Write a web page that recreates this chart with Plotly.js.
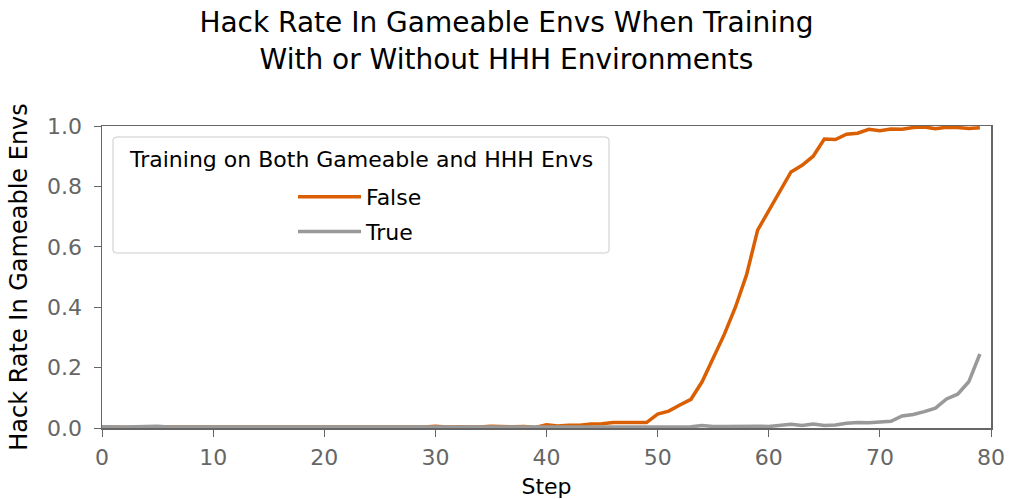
<!DOCTYPE html>
<html>
<head>
<meta charset="utf-8">
<script src="https://cdn.plot.ly/plotly-3.0.1.min.js"></script>
<style>html,body{margin:0;padding:0;background:#fff;}#chart{width:1013px;height:499px;}</style>
</head>
<body>
<div id="chart"></div>
<script>
const steps = Array.from({length: 80}, (_, i) => i);
const hackFalse = [
  0.003, 0.002, 0.003, 0.002, 0.003, 0.003, 0.002, 0.003, 0.002, 0.003,
  0.003, 0.002, 0.003, 0.003, 0.002, 0.003, 0.003, 0.004, 0.002, 0.003,
  0.003, 0.002, 0.003, 0.003, 0.002, 0.003, 0.003, 0.004, 0.003, 0.003,
  0.006, 0.003, 0.004, 0.003, 0.003, 0.006, 0.004, 0.004, 0.005, 0.002,
  0.011, 0.007, 0.009, 0.009, 0.013, 0.014, 0.018, 0.018, 0.019, 0.018,
  0.046, 0.056, 0.076, 0.095, 0.153, 0.23, 0.31, 0.40, 0.507, 0.655,
  0.72, 0.785, 0.848, 0.87, 0.90, 0.957, 0.955, 0.973, 0.976, 0.989,
  0.984, 0.99, 0.989, 0.995, 0.997, 0.991, 0.996, 0.995, 0.992, 0.994
];
const hackTrue = [
  0.004, 0.003, 0.003, 0.004, 0.004, 0.006, 0.003, 0.003, 0.004, 0.003,
  0.003, 0.004, 0.004, 0.003, 0.003, 0.004, 0.003, 0.003, 0.004, 0.003,
  0.003, 0.003, 0.004, 0.003, 0.004, 0.003, 0.003, 0.004, 0.003, 0.003,
  0.003, 0.004, 0.003, 0.003, 0.004, 0.004, 0.004, 0.003, 0.004, 0.003,
  0.004, 0.003, 0.004, 0.004, 0.005, 0.005, 0.004, 0.005, 0.004, 0.004,
  0.005, 0.004, 0.005, 0.004, 0.008, 0.005, 0.005, 0.006, 0.005, 0.006,
  0.005, 0.008, 0.012, 0.008, 0.013, 0.008, 0.01, 0.016, 0.018, 0.017,
  0.02, 0.022, 0.04, 0.045, 0.054, 0.066, 0.096, 0.112, 0.153, 0.245
];
const seriesNames = ['False', 'True'];
const seriesColors = ['#D95F02', '#999999'];
const xTicks = [0, 10, 20, 30, 40, 50, 60, 70, 80];
const yTicks = [0, 0.2, 0.4, 0.6, 0.8, 1.0];
const titleText = 'Hack Rate In Gameable Envs When Training<br>With or Without HHH Environments';
const legendTitle = 'Training on Both Gameable and HHH Envs';

const FONT = '"DejaVu Sans", "Noto Sans", sans-serif';

const traces = [hackFalse, hackTrue].map((ys, i) => ({
  x: steps, y: ys, type: 'scatter', mode: 'lines',
  name: seriesNames[i], legendgroup: 'g' + i,
  line: {color: seriesColors[i], width: 3.5}
}));

const W = 1013, H = 499, L = 102, R = 22, T = 126, B = 71;
const pw = W - L - R, ph = H - T - B;
const px = x => (x - L) / pw;
const py = y => (H - B - y) / ph;
const bx0 = px(113), bx1 = px(609), by0 = py(253), by1 = py(137);
const rr = 0.006;

const layout = {
  width: W, height: H,
  margin: {l: L, r: R, t: T, b: B},
  paper_bgcolor: '#fff', plot_bgcolor: '#fff',
  font: {family: FONT, size: 20, color: '#000'},
  title: {text: titleText, x: 0.5, xanchor: 'center', y: 0.935, yanchor: 'top',
          font: {family: FONT, size: 28, color: '#000'}},
  xaxis: {
    range: [0, 80], tickvals: xTicks, ticks: 'outside', ticklen: 7, tickcolor: '#666',
    showgrid: false, zeroline: false, showline: true, linecolor: '#666', linewidth: 1.5,
    mirror: true, tickfont: {size: 22, color: '#666'}, ticklabelstandoff: 2,
    title: {text: 'Step', standoff: 16, font: {size: 22, color: '#000'}}
  },
  yaxis: {
    range: [0, 1], tickvals: yTicks, tickformat: '.1f', ticks: 'outside', ticklen: 7, tickcolor: '#666',
    showgrid: false, zeroline: false, showline: true, linecolor: '#666', linewidth: 1.5,
    mirror: true, tickfont: {size: 22, color: '#666'}, ticklabelstandoff: 7,
    title: {text: 'Hack Rate In Gameable Envs', standoff: 12, font: {size: 24, color: '#000'}}
  },
  showlegend: true,
  legend: {
    x: px(293), y: py(176), xanchor: 'left', yanchor: 'top',
    bgcolor: 'rgba(0,0,0,0)', borderwidth: 0,
    font: {size: 22, color: '#000'}, tracegroupgap: 3, itemwidth: 63
  },
  shapes: [{
    type: 'path', xref: 'paper', yref: 'paper',
    path: `M ${bx0+rr} ${by0} L ${bx1-rr} ${by0} Q ${bx1} ${by0} ${bx1} ${by0+rr*2} L ${bx1} ${by1-rr*2} Q ${bx1} ${by1} ${bx1-rr} ${by1} L ${bx0+rr} ${by1} Q ${bx0} ${by1} ${bx0} ${by1-rr*2} L ${bx0} ${by0+rr*2} Q ${bx0} ${by0} ${bx0+rr} ${by0} Z`,
    line: {color: '#dddddd', width: 1.5}, fillcolor: 'rgba(255,255,255,0.85)', layer: 'above'
  }],
  annotations: [{
    text: legendTitle, xref: 'paper', yref: 'paper',
    x: (bx0 + bx1) / 2, y: py(159), xanchor: 'center', yanchor: 'middle',
    showarrow: false, font: {size: 22, color: '#000', family: FONT}
  }]
};

Plotly.newPlot('chart', traces, layout, {displayModeBar: false, staticPlot: true});
</script>
</body>
</html>
